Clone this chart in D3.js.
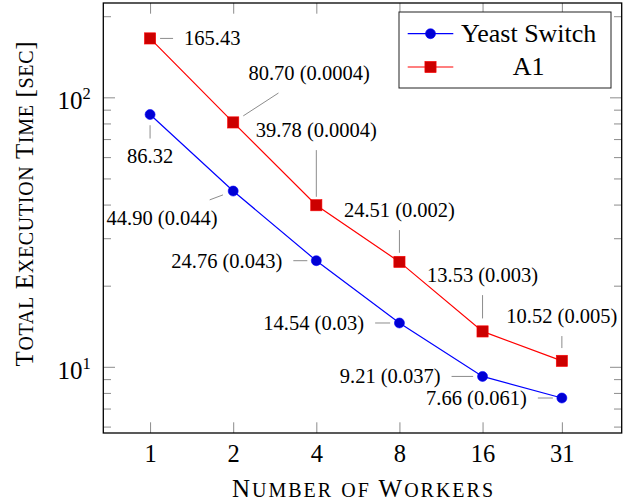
<!DOCTYPE html>
<html>
<head>
<meta charset="utf-8">
<script src="https://cdn.jsdelivr.net/npm/d3@7"></script>
<style>
    body { margin: 0; background: #fff; }
    svg { display: block; }
    svg text { font-family: "Liberation Serif", "Times New Roman", serif; }
    .tick line { stroke: #8c8c8c; stroke-width: 1; }
</style>
</head>
<body>
<svg id="chart" width="633" height="504"></svg>
<script>
    var workers = [1, 2, 4, 8, 16, 31];
    var yeastTimes = [86.32, 44.90, 24.76, 14.54, 9.21, 7.66];
    var yeastDev = ["", "0.044", "0.043", "0.03", "0.037", "0.061"];
    var a1Times = [165.43, 80.70, 39.78, 24.51, 13.53, 10.52];
    var a1Dev = ["", "0.0004", "0.0004", "0.002", "0.003", "0.005"];
    var yMajor = [10, 100];
    var yMinor = [6, 7, 8, 9, 20, 30, 40, 50, 60, 70, 80, 90, 200];

    // pin for each label: angle (deg, ccw), distance from the mark, leader length
    var yeastPins = [[-90, 10.7, 13.3], [200.6, 10.9, 14.2], [180, 9, 14], [180, 9.3, 15], [180, 9.4, 21.6], [180, 9, 15]];
    var a1Pins = [[0, 10, 13], [33, 12, 42], [90, 8.4, 46.7], [90, 9.1, 22.7], [90, 13, 23.3], [90, 12.8, 12]];

    var SERIF = "Liberation Serif, Times New Roman, serif";

    (function () {
        var svg = d3.select("#chart").attr("font-family", SERIF);
        var margin = { top: 3, right: 11.3, bottom: 71, left: 103.3 };
        var width = +svg.attr("width") - margin.left - margin.right;
        var height = +svg.attr("height") - margin.top - margin.bottom;
        var g = svg.append("g")
            .attr("transform", "translate(" + margin.left + "," + margin.top + ")");

        var x = d3.scaleLog().base(2).domain([0.677, 51.06]).range([0, width]);
        var y = d3.scaleLog().domain([5.68, 223.9]).range([height, 0]);

        // small caps: lowercase runs become smaller capitals
        function smallCaps(text, str, size) {
            str.match(/[a-z]+|[^a-z]+/g).forEach(function (part) {
                var lower = /^[a-z]+$/.test(part);
                text.append("tspan")
                    .attr("font-size", lower ? size * 0.8 : size)
                    .text(part.toUpperCase());
            });
        }

        // ticks (all drawn inward)
        g.append("g").call(d3.axisBottom(x).tickValues(workers).tickSize(-10.7).tickSizeOuter(0)
                .tickFormat(function (d) { return d; }))
            .attr("transform", "translate(0," + height + ")")
            .call(function (a) {
                a.select(".domain").remove();
                a.attr("font-family", SERIF);
                a.selectAll("text").attr("y", 28.7).attr("dy", null)
                    .attr("font-size", 24.5).attr("fill", "#000");
            });
        g.append("g").call(d3.axisTop(x).tickValues(workers).tickSize(-10.7).tickSizeOuter(0).tickFormat(""))
            .call(function (a) { a.select(".domain").remove(); });

        [[d3.axisLeft, 0], [d3.axisRight, width]].forEach(function (s) {
            g.append("g").attr("transform", "translate(" + s[1] + ",0)")
                .call(s[0](y).tickValues(yMinor).tickSize(-7.7).tickSizeOuter(0).tickFormat(""))
                .call(function (a) { a.select(".domain").remove(); });
        });
        g.append("g").attr("transform", "translate(" + width + ",0)")
            .call(d3.axisRight(y).tickValues(yMajor).tickSize(-11.7).tickSizeOuter(0).tickFormat(""))
            .call(function (a) { a.select(".domain").remove(); });
        g.append("g")
            .call(d3.axisLeft(y).tickValues(yMajor).tickSize(-11.7).tickSizeOuter(0).tickFormat(""))
            .call(function (a) {
                a.select(".domain").remove();
                a.attr("font-family", SERIF);
                a.selectAll(".tick text")
                    .attr("x", -12.6).attr("y", 11.5).attr("dy", null)
                    .attr("fill", "#000")
                    .each(function (d) {
                        var t = d3.select(this);
                        t.append("tspan").attr("font-size", 25).text("10");
                        t.append("tspan").attr("font-size", 16.5).attr("dy", -10)
                            .text(Math.round(Math.log10(d)));
                    });
            });

        g.append("rect")
            .attr("width", width).attr("height", height)
            .attr("fill", "none").attr("stroke", "#000").attr("stroke-width", 1.3);

        var series = [
            { times: yeastTimes, dev: yeastDev, pins: yeastPins, line: "#0000ff", fill: "#0000d4", mark: "circle" },
            { times: a1Times, dev: a1Dev, pins: a1Pins, line: "#ff0000", fill: "#cc0000", mark: "square" }
        ];

        function drawMark(sel, s, cx, cy) {
            if (s.mark === "circle") {
                sel.append("circle").attr("cx", cx).attr("cy", cy).attr("r", 5)
                    .attr("fill", s.fill).attr("stroke", s.line).attr("stroke-width", 0.6);
            } else {
                sel.append("rect").attr("x", cx - 5.6).attr("y", cy - 5.6)
                    .attr("width", 11.2).attr("height", 11.2)
                    .attr("fill", s.fill).attr("stroke", s.line).attr("stroke-width", 0.6);
            }
        }

        var line = d3.line()
            .x(function (d) { return x(d[0]); })
            .y(function (d) { return y(d[1]); });

        series.forEach(function (s) {
            var pts = workers.map(function (w, i) { return [w, s.times[i]]; });
            g.append("path").datum(pts)
                .attr("d", line).attr("fill", "none")
                .attr("stroke", s.line).attr("stroke-width", 1.2);

            pts.forEach(function (p, i) {
                var px = x(p[0]), py = y(p[1]);
                var pin = s.pins[i];
                var ang = pin[0] * Math.PI / 180;
                var ux = Math.cos(ang), uy = -Math.sin(ang);
                var ex = px + (pin[1] + pin[2]) * ux, ey = py + (pin[1] + pin[2]) * uy;
                g.append("line")
                    .attr("x1", px + pin[1] * ux).attr("y1", py + pin[1] * uy)
                    .attr("x2", ex).attr("y2", ey)
                    .attr("stroke", "#8c8c8c").attr("stroke-width", 1);

                var label = p[1].toFixed(2) + (s.dev[i] ? " (" + s.dev[i] + ")" : "");
                var txt = g.append("text").attr("font-size", 20.5)
                    .attr("font-family", SERIF)
                    .attr("text-anchor", "middle").text(label);
                var w = txt.node().getComputedTextLength();
                var h = 13.8;
                var a = w / 2 + 11, b = h / 2 + (uy < 0 ? 13 : 11);
                var t = Math.min(Math.abs(ux) > 1e-6 ? a / Math.abs(ux) : Infinity,
                    Math.abs(uy) > 1e-6 ? b / Math.abs(uy) : Infinity);
                txt.attr("x", ex + t * ux).attr("y", ey + t * uy + h / 2);
            });

            pts.forEach(function (p) { drawMark(g, s, x(p[0]), y(p[1])); });
        });

        // legend
        var legendNames = ["Yeast Switch", "A1"];
        var lg = svg.append("g").attr("transform", "translate(399,12)");
        lg.append("rect").attr("width", 212).attr("height", 76)
            .attr("fill", "#fff").attr("stroke", "#222").attr("stroke-width", 1);
        series.forEach(function (s, i) {
            var cy = 21.7 + i * 33.3;
            lg.append("line").attr("x1", 8.7).attr("x2", 54.3).attr("y1", cy).attr("y2", cy)
                .attr("stroke", s.line).attr("stroke-width", 1.2);
            drawMark(lg, s, 31.5, cy);
            lg.append("text").attr("x", 129.7).attr("y", cy + 8)
                .attr("font-family", SERIF)
                .attr("text-anchor", "middle").attr("font-size", 26)
                .text(legendNames[i]);
        });

        // axis titles
        var xt = svg.append("text").attr("x", margin.left + width / 2).attr("y", 496.7)
            .attr("font-family", SERIF).attr("text-anchor", "middle")
            .attr("textLength", 261).attr("lengthAdjust", "spacing");
        smallCaps(xt, "Number of Workers", 25);
        var yt = svg.append("text").attr("transform", "translate(33.3,204) rotate(-90)")
            .attr("font-family", SERIF).attr("text-anchor", "middle")
            .attr("textLength", 325).attr("lengthAdjust", "spacing");
        smallCaps(yt, "Total Execution Time [sec]", 25);
    })();
</script>
</body>
</html>
